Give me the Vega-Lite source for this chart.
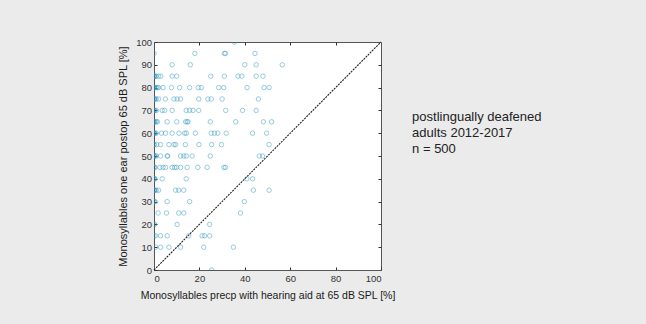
{
  "$schema": "https://vega.github.io/schema/vega-lite/v6.json",
  "width": 227,
  "height": 228,
  "autosize": {"type": "none"},
  "padding": {"left": 154, "top": 42, "right": 265, "bottom": 54},
  "background": "#ebebeb",
  "config": {
    "view": {"fill": "white", "stroke": "#555", "strokeWidth": 1},
    "axis": {
      "grid": false,
      "labelFont": "Liberation Sans",
      "labelFontSize": 9.5,
      "labelColor": "#333",
      "titleFont": "Liberation Sans",
      "titleFontWeight": "normal",
      "titleColor": "#1a1a1a",
      "tickColor": "#333",
      "domainColor": "#555"
    }
  },
  "layer": [
    {
      "data": {"values": [
        {"preop": 35.4, "postop": 100},
        {"preop": 0, "postop": 95}, {"preop": 18, "postop": 95}, {"preop": 31, "postop": 95}, {"preop": 31.5, "postop": 95}, {"preop": 44.5, "postop": 95},
        {"preop": 8, "postop": 90}, {"preop": 16, "postop": 90}, {"preop": 40, "postop": 90}, {"preop": 45, "postop": 90}, {"preop": 56.5, "postop": 90},
        {"preop": 0, "postop": 85}, {"preop": 0, "postop": 85}, {"preop": 0, "postop": 85}, {"preop": 0.5, "postop": 85}, {"preop": 1, "postop": 85}, {"preop": 2, "postop": 85}, {"preop": 3, "postop": 85}, {"preop": 8, "postop": 85}, {"preop": 10, "postop": 85}, {"preop": 25, "postop": 85}, {"preop": 31, "postop": 85}, {"preop": 37, "postop": 85}, {"preop": 38.7, "postop": 85}, {"preop": 45, "postop": 85}, {"preop": 48, "postop": 85},
        {"preop": 0, "postop": 80}, {"preop": 0, "postop": 80}, {"preop": 0, "postop": 80}, {"preop": 0, "postop": 80}, {"preop": 0.5, "postop": 80}, {"preop": 1, "postop": 80}, {"preop": 1.5, "postop": 80}, {"preop": 2, "postop": 80}, {"preop": 4, "postop": 80}, {"preop": 7.7, "postop": 80}, {"preop": 11.3, "postop": 80}, {"preop": 15.7, "postop": 80}, {"preop": 19.5, "postop": 80}, {"preop": 20.8, "postop": 80}, {"preop": 28.5, "postop": 80}, {"preop": 30.7, "postop": 80}, {"preop": 41, "postop": 80}, {"preop": 48.5, "postop": 80}, {"preop": 50.7, "postop": 80},
        {"preop": 0, "postop": 75}, {"preop": 0, "postop": 75}, {"preop": 0, "postop": 75}, {"preop": 0.5, "postop": 75}, {"preop": 1, "postop": 75}, {"preop": 2, "postop": 75}, {"preop": 5, "postop": 75}, {"preop": 8.8, "postop": 75}, {"preop": 10.2, "postop": 75}, {"preop": 11.7, "postop": 75}, {"preop": 19.7, "postop": 75}, {"preop": 23.7, "postop": 75}, {"preop": 25.2, "postop": 75}, {"preop": 30, "postop": 75}, {"preop": 46, "postop": 75},
        {"preop": 0, "postop": 70}, {"preop": 0, "postop": 70}, {"preop": 0, "postop": 70}, {"preop": 0.5, "postop": 70}, {"preop": 1, "postop": 70}, {"preop": 3.6, "postop": 70}, {"preop": 4.7, "postop": 70}, {"preop": 8, "postop": 70}, {"preop": 14.2, "postop": 70}, {"preop": 15.7, "postop": 70}, {"preop": 17.2, "postop": 70}, {"preop": 19.7, "postop": 70}, {"preop": 31.6, "postop": 70}, {"preop": 39, "postop": 70}, {"preop": 45, "postop": 70},
        {"preop": 0, "postop": 65}, {"preop": 0, "postop": 65}, {"preop": 0, "postop": 65}, {"preop": 0.5, "postop": 65}, {"preop": 1, "postop": 65}, {"preop": 1.5, "postop": 65}, {"preop": 5.8, "postop": 65}, {"preop": 10, "postop": 65}, {"preop": 13.9, "postop": 65}, {"preop": 14.6, "postop": 65}, {"preop": 15, "postop": 65}, {"preop": 24.8, "postop": 65}, {"preop": 36, "postop": 65}, {"preop": 48.2, "postop": 65}, {"preop": 51.8, "postop": 65},
        {"preop": 0, "postop": 60}, {"preop": 0, "postop": 60}, {"preop": 0, "postop": 60}, {"preop": 0.5, "postop": 60}, {"preop": 1, "postop": 60}, {"preop": 3.3, "postop": 60}, {"preop": 5.1, "postop": 60}, {"preop": 8, "postop": 60}, {"preop": 11, "postop": 60}, {"preop": 13.5, "postop": 60}, {"preop": 14.2, "postop": 60}, {"preop": 18.2, "postop": 60}, {"preop": 25.2, "postop": 60}, {"preop": 26.6, "postop": 60}, {"preop": 28.1, "postop": 60}, {"preop": 31.8, "postop": 60}, {"preop": 43.4, "postop": 60}, {"preop": 49.6, "postop": 60},
        {"preop": 0, "postop": 55}, {"preop": 0, "postop": 55}, {"preop": 1.2, "postop": 55}, {"preop": 2.9, "postop": 55}, {"preop": 6.6, "postop": 55}, {"preop": 8.8, "postop": 55}, {"preop": 9.5, "postop": 55}, {"preop": 13.8, "postop": 55}, {"preop": 19.8, "postop": 55}, {"preop": 25.4, "postop": 55}, {"preop": 29.7, "postop": 55}, {"preop": 50.7, "postop": 55},
        {"preop": 0, "postop": 50}, {"preop": 0, "postop": 50}, {"preop": 0, "postop": 50}, {"preop": 0.5, "postop": 50}, {"preop": 1, "postop": 50}, {"preop": 2.9, "postop": 50}, {"preop": 5.8, "postop": 50}, {"preop": 6, "postop": 50}, {"preop": 11.7, "postop": 50}, {"preop": 13.1, "postop": 50}, {"preop": 14.2, "postop": 50}, {"preop": 16.8, "postop": 50}, {"preop": 24.8, "postop": 50}, {"preop": 46.4, "postop": 50}, {"preop": 47.8, "postop": 50},
        {"preop": 0, "postop": 45}, {"preop": 0, "postop": 45}, {"preop": 0.5, "postop": 45}, {"preop": 2.6, "postop": 45}, {"preop": 4, "postop": 45}, {"preop": 5.1, "postop": 45}, {"preop": 8, "postop": 45}, {"preop": 9.1, "postop": 45}, {"preop": 9.9, "postop": 45}, {"preop": 11.7, "postop": 45}, {"preop": 14.6, "postop": 45}, {"preop": 19.3, "postop": 45}, {"preop": 23.4, "postop": 45}, {"preop": 30.8, "postop": 45}, {"preop": 31.5, "postop": 45},
        {"preop": 0, "postop": 40}, {"preop": 0, "postop": 40}, {"preop": 0, "postop": 40}, {"preop": 0.5, "postop": 40}, {"preop": 3.6, "postop": 40}, {"preop": 14.2, "postop": 40}, {"preop": 40.9, "postop": 40}, {"preop": 43.4, "postop": 40},
        {"preop": 0, "postop": 35}, {"preop": 0, "postop": 35}, {"preop": 0, "postop": 35}, {"preop": 0.5, "postop": 35}, {"preop": 1, "postop": 35}, {"preop": 2, "postop": 35}, {"preop": 9.5, "postop": 35}, {"preop": 10.9, "postop": 35}, {"preop": 13.1, "postop": 35}, {"preop": 43.8, "postop": 35}, {"preop": 50.7, "postop": 35},
        {"preop": 0, "postop": 30}, {"preop": 0, "postop": 30}, {"preop": 0.5, "postop": 30}, {"preop": 5.8, "postop": 30}, {"preop": 15.7, "postop": 30}, {"preop": 39.8, "postop": 30},
        {"preop": 1.8, "postop": 25}, {"preop": 5.5, "postop": 25}, {"preop": 10.9, "postop": 25}, {"preop": 13.1, "postop": 25}, {"preop": 38.1, "postop": 25},
        {"preop": 0, "postop": 20}, {"preop": 0.3, "postop": 20}, {"preop": 10.2, "postop": 20}, {"preop": 24.5, "postop": 20},
        {"preop": 0, "postop": 15}, {"preop": 0.7, "postop": 15}, {"preop": 2.9, "postop": 15}, {"preop": 5.8, "postop": 15}, {"preop": 15.3, "postop": 15}, {"preop": 21.2, "postop": 15}, {"preop": 22.3, "postop": 15}, {"preop": 24.5, "postop": 15},
        {"preop": 0.7, "postop": 10}, {"preop": 2.9, "postop": 10}, {"preop": 6.6, "postop": 10}, {"preop": 11.7, "postop": 10}, {"preop": 21.9, "postop": 10}, {"preop": 35, "postop": 10},
        {"preop": 25.4, "postop": 0}
      ]},
      "mark": {"type": "point", "shape": "circle", "filled": false, "size": 20, "strokeWidth": 0.9, "color": "#2f96c0", "opacity": 0.55, "clip": true},
      "encoding": {
        "x": {"field": "preop", "type": "quantitative",
          "scale": {"domain": [0, 100], "nice": false},
          "axis": {"title": "Monosyllables precp with hearing aid at 65 dB SPL [%]", "titleFontSize": 10.5, "titlePadding": 7, "values": [0, 20, 40, 60, 80, 100], "tickSize": -3, "labelPadding": 6.5}},
        "y": {"field": "postop", "type": "quantitative",
          "scale": {"domain": [0, 100], "nice": false},
          "axis": {"title": "Monosyllables one ear postop 65 dB SPL [%]", "titleFontSize": 11, "titlePadding": 7, "values": [0, 10, 20, 30, 40, 50, 60, 70, 80, 90, 100], "tickSize": -3, "labelPadding": 5.5}}
      }
    },
    {
      "data": {"values": [{"ref": 0}, {"ref": 100}]},
      "mark": {"type": "line", "color": "#222", "strokeWidth": 1.1, "strokeDash": [2, 1]},
      "encoding": {
        "x": {"field": "ref", "type": "quantitative",
          "axis": {"orient": "top", "title": null, "labels": false, "domain": false, "values": [20, 40, 60, 80], "tickSize": -3}},
        "y": {"field": "ref", "type": "quantitative",
          "axis": {"orient": "right", "title": null, "labels": false, "domain": false, "values": [10, 20, 30, 40, 50, 60, 70, 80, 90], "tickSize": -3}}
      }
    },
    {
      "data": {"values": [{"note": "postlingually deafened|adults 2012-2017|n = 500"}]},
      "mark": {"type": "text", "align": "left", "baseline": "middle", "lineBreak": "|", "font": "Liberation Sans", "fontSize": 13, "lineHeight": 16, "color": "#222"},
      "encoding": {
        "x": {"datum": 113.7, "type": "quantitative", "axis": null},
        "y": {"datum": 67, "type": "quantitative", "axis": null},
        "text": {"field": "note"}
      }
    }
  ],
  "resolve": {"axis": {"x": "independent", "y": "independent"}}
}
